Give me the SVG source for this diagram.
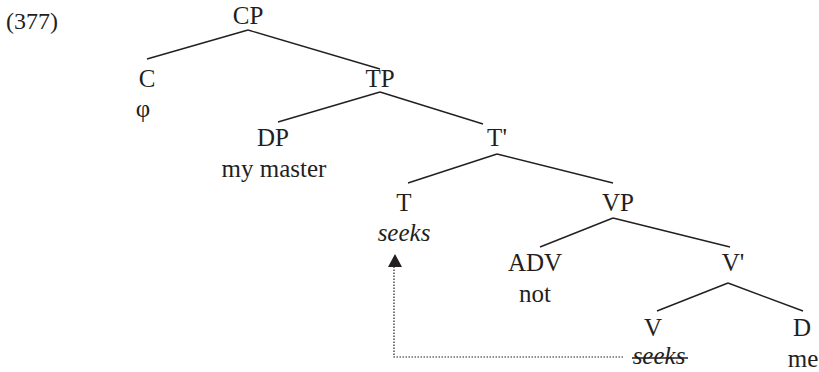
<svg xmlns="http://www.w3.org/2000/svg" width="819" height="372" viewBox="0 0 819 372">
<style>
text{font-family:"Liberation Serif","Times New Roman",serif;font-size:25px;fill:#231f20;text-anchor:middle}
.it{font-style:italic}
.br{stroke:#231f20;stroke-width:1.4;fill:none}
.dot{stroke:#231f20;stroke-width:1.2;fill:none;stroke-dasharray:1.5 1.5}
</style>
<rect width="819" height="372" fill="#fff"/>
<text x="6" y="29" style="text-anchor:start;font-size:24px">(377)</text>
<g id="connectors">
<line class="br" x1="248" y1="30" x2="147" y2="59"/>
<line class="br" x1="248" y1="30" x2="380" y2="69"/>
<line class="br" x1="380" y1="92" x2="278" y2="122"/>
<line class="br" x1="380" y1="92" x2="483" y2="124"/>
<line class="br" x1="497" y1="154" x2="408" y2="183"/>
<line class="br" x1="497" y1="154" x2="613" y2="183"/>
<line class="br" x1="613" y1="218" x2="540" y2="247"/>
<line class="br" x1="613" y1="218" x2="730" y2="247"/>
<line class="br" x1="728" y1="283" x2="657" y2="311"/>
<line class="br" x1="728" y1="283" x2="803" y2="311"/>
<polyline class="dot" points="623,357 394,357 394,267"/>
<polygon points="395,254 388,267 402,267" fill="#231f20"/>
</g>
<g id="CP"><text x="248" y="24">CP</text></g>
<g id="C"><text x="147" y="87">C</text><text x="143" y="117">φ</text></g>
<g id="TP"><text x="380" y="87">TP</text></g>
<g id="DP"><text x="273" y="146">DP</text><text x="274" y="177">my master</text></g>
<g id="Tbar"><text x="497" y="146">T'</text></g>
<g id="T"><text x="404" y="211">T</text><text class="it" x="404" y="241">seeks</text></g>
<g id="VP"><text x="618" y="211">VP</text></g>
<g id="ADV"><text x="535" y="271">ADV</text><text x="535" y="302">not</text></g>
<g id="Vbar"><text x="733" y="271">V'</text></g>
<g id="V"><text x="653" y="336">V</text><text class="it" x="659" y="364">seeks</text><line class="br" x1="632" y1="358" x2="688" y2="358"/></g>
<g id="D"><text x="802" y="336">D</text><text x="803" y="367">me</text></g>
</svg>
